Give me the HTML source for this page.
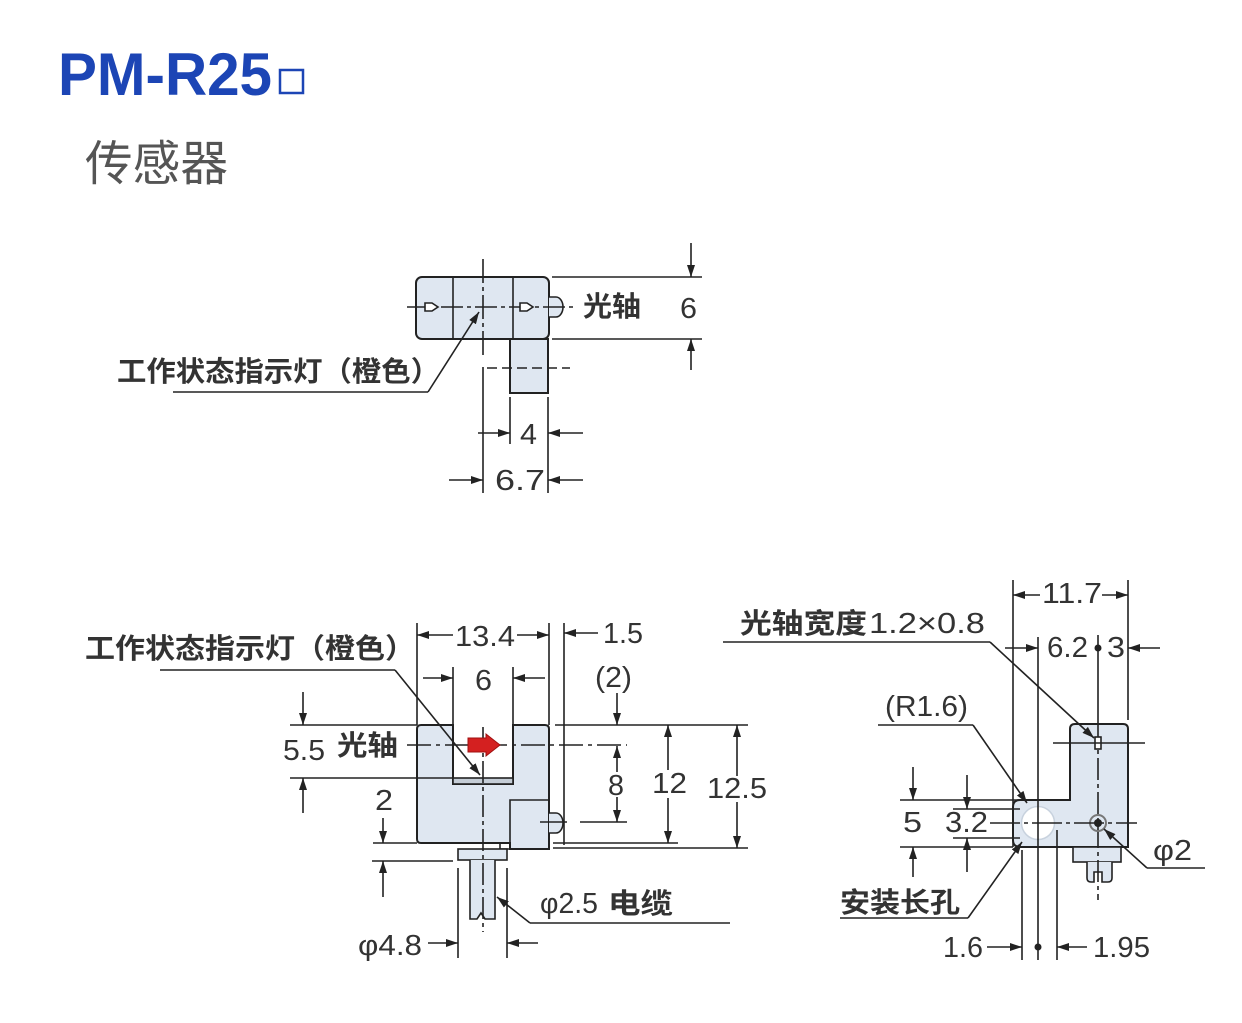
<!DOCTYPE html>
<html><head><meta charset="utf-8"><style>
html,body{margin:0;padding:0;background:#fff;}
svg{display:block;}
.n{font-family:"Liberation Sans",Arial,sans-serif;font-size:29px;fill:#333;}
.c{font-family:"Liberation Sans","Noto Sans CJK SC",sans-serif;font-size:28px;font-weight:700;fill:#333;}
</style></head><body>
<svg width="1242" height="1023" viewBox="0 0 1242 1023" xmlns="http://www.w3.org/2000/svg">
<defs>
<marker id="a" viewBox="0 0 12 8" refX="12" refY="4" markerWidth="12" markerHeight="8" markerUnits="userSpaceOnUse" orient="auto"><path d="M0,0 L12,4 L0,8 z" fill="#222"/></marker>
</defs>

<!-- Title -->
<text x="58" y="95" font-family="Liberation Sans, Arial, sans-serif" font-weight="700" font-size="60" fill="#1c45b5" textLength="214" lengthAdjust="spacingAndGlyphs">PM-R25</text>
<rect x="280" y="70" width="23" height="23" fill="#fff" stroke="#1c45b5" stroke-width="2.5"/>
<text x="85" y="180" font-family="Liberation Sans, Noto Sans CJK SC, sans-serif" font-size="48" fill="#555" textLength="143" lengthAdjust="spacingAndGlyphs">传感器</text>

<!-- ===== TOP VIEW ===== -->
<g stroke="#222" stroke-width="1.6" fill="none">
  <rect x="416" y="277" width="133" height="62" rx="6" fill="#dfe7f1" stroke-width="2"/>
  <rect x="510" y="339" width="38" height="54" fill="#dfe7f1" stroke-width="2"/>
  <line x1="453" y1="277" x2="453" y2="339"/>
  <line x1="513" y1="277" x2="513" y2="339"/>
  <path d="M549,297 H556 A7,10 0 0 1 556,317 H549" fill="#dfe7f1"/>
  <line x1="407" y1="307" x2="573" y2="307" stroke-dasharray="22,4,4,4"/>
  <path d="M425,303 h7 l6,4 l-6,4 h-7 z" fill="#fff"/>
  <path d="M520,303 h7 l6,4 l-6,4 h-7 z" fill="#fff"/>
  <line x1="483" y1="259" x2="483" y2="357" stroke-dasharray="24,4,4,4"/>
  <line x1="483" y1="367" x2="483" y2="493"/>
  <line x1="487" y1="368" x2="570" y2="368" stroke-dasharray="10,5"/>
  <line x1="510" y1="397" x2="510" y2="444"/>
  <line x1="548" y1="397" x2="548" y2="493"/>
  <line x1="478" y1="433" x2="510" y2="433" marker-end="url(#a)"/>
  <line x1="583" y1="433" x2="548" y2="433" marker-end="url(#a)"/>
  <line x1="449" y1="480" x2="483" y2="480" marker-end="url(#a)"/>
  <line x1="583" y1="480" x2="548" y2="480" marker-end="url(#a)"/>
  <line x1="552" y1="277" x2="702" y2="277"/>
  <line x1="552" y1="339" x2="702" y2="339"/>
  <line x1="691" y1="243" x2="691" y2="277" marker-end="url(#a)"/>
  <line x1="691" y1="370" x2="691" y2="339" marker-end="url(#a)"/>
  <polyline points="173,392 428,392"/>
  <line x1="428" y1="392" x2="479" y2="312" marker-end="url(#a)"/>
</g>
<text class="c" x="117" y="381" font-size="29" textLength="323" lengthAdjust="spacingAndGlyphs">工作状态指示灯（橙色）</text>
<text class="c" x="583" y="316" font-size="26" textLength="58" lengthAdjust="spacingAndGlyphs">光轴</text>
<text class="n" x="680" y="318" textLength="17" lengthAdjust="spacingAndGlyphs">6</text>
<text class="n" x="520" y="444" textLength="17" lengthAdjust="spacingAndGlyphs">4</text>
<text class="n" x="495" y="490" textLength="50" lengthAdjust="spacingAndGlyphs">6.7</text>

<!-- ===== BOTTOM LEFT ===== -->
<g stroke="#222" stroke-width="1.6" fill="none">
  <path d="M417,729 Q417,725 421,725 H453 V784 H513 V725 H545 Q549,725 549,729 V849 H510 V843 H421 Q417,843 417,839 Z" fill="#dfe7f1" stroke-width="2"/>
  <rect x="453" y="778" width="60" height="6" fill="#c5cdd6"/>
  <path d="M510,849 V800 H549"/>
  <path d="M500,843 V849 H510"/>
  <path d="M549,813 H556 A7,10 0 0 1 556,833 H549" fill="#dfe7f1"/>
  <rect x="458" y="849" width="49" height="11" fill="#dfe7f1"/>
  <path d="M470,860 V919 H477 L481,913 L485,919 H495 V860" fill="#dfe7f1"/>
  <line x1="483" y1="727" x2="483" y2="932" stroke-dasharray="22,4,4,4"/>
  <line x1="407" y1="745" x2="627" y2="745" stroke-dasharray="24,5,4,5"/>
  <line x1="540" y1="822" x2="567" y2="822"/>
  <!-- ext lines -->
  <line x1="290" y1="725" x2="417" y2="725"/>
  <line x1="555" y1="725" x2="748" y2="725"/>
  <line x1="290" y1="778" x2="453" y2="778"/>
  <line x1="373" y1="843" x2="417" y2="843"/>
  <line x1="372" y1="861" x2="453" y2="861"/>
  <line x1="580" y1="822" x2="627" y2="822"/>
  <line x1="553" y1="843" x2="678" y2="843"/>
  <line x1="553" y1="848" x2="748" y2="848"/>
  <line x1="417" y1="623" x2="417" y2="725"/>
  <line x1="549" y1="623" x2="549" y2="725"/>
  <line x1="453" y1="667" x2="453" y2="725"/>
  <line x1="513" y1="667" x2="513" y2="725"/>
  <line x1="564" y1="623" x2="564" y2="845"/>
  <line x1="458" y1="868" x2="458" y2="958"/>
  <line x1="507" y1="868" x2="507" y2="958"/>
  <!-- dims -->
  <line x1="453" y1="635" x2="417" y2="635" marker-end="url(#a)"/>
  <line x1="517" y1="635" x2="549" y2="635" marker-end="url(#a)"/>
  <line x1="423" y1="678" x2="453" y2="678" marker-end="url(#a)"/>
  <line x1="545" y1="678" x2="513" y2="678" marker-end="url(#a)"/>
  <line x1="598" y1="633" x2="564" y2="633" marker-end="url(#a)"/>
  <line x1="617" y1="693" x2="617" y2="725" marker-end="url(#a)"/>
  <line x1="617" y1="772" x2="617" y2="746" marker-end="url(#a)"/>
  <line x1="617" y1="797" x2="617" y2="822" marker-end="url(#a)"/>
  <line x1="668" y1="770" x2="668" y2="725" marker-end="url(#a)"/>
  <line x1="668" y1="798" x2="668" y2="843" marker-end="url(#a)"/>
  <line x1="737" y1="776" x2="737" y2="725" marker-end="url(#a)"/>
  <line x1="737" y1="802" x2="737" y2="848" marker-end="url(#a)"/>
  <line x1="303" y1="692" x2="303" y2="725" marker-end="url(#a)"/>
  <line x1="303" y1="813" x2="303" y2="778" marker-end="url(#a)"/>
  <line x1="383" y1="818" x2="383" y2="843" marker-end="url(#a)"/>
  <line x1="383" y1="897" x2="383" y2="861" marker-end="url(#a)"/>
  <line x1="428" y1="943" x2="458" y2="943" marker-end="url(#a)"/>
  <line x1="538" y1="943" x2="507" y2="943" marker-end="url(#a)"/>
  <!-- leaders -->
  <polyline points="160,670 395,670"/>
  <line x1="395" y1="670" x2="480" y2="775" marker-end="url(#a)"/>
  <polyline points="730,923 530,923"/>
  <line x1="530" y1="923" x2="497" y2="897" marker-end="url(#a)"/>
</g>
<path d="M468,738 H486 V734 L500,745 L486,756 V752 H468 Z" fill="#d42020" stroke="#a01010" stroke-width="1"/>
<text class="c" x="85" y="658" font-size="29" textLength="330" lengthAdjust="spacingAndGlyphs">工作状态指示灯（橙色）</text>
<text class="n" x="455" y="646" textLength="60" lengthAdjust="spacingAndGlyphs">13.4</text>
<text class="n" x="475" y="690" textLength="17" lengthAdjust="spacingAndGlyphs">6</text>
<text class="n" x="283" y="760" textLength="42" lengthAdjust="spacingAndGlyphs">5.5</text>
<text class="c" x="337" y="755" textLength="61" lengthAdjust="spacingAndGlyphs">光轴</text>
<text class="n" x="375" y="810" textLength="18" lengthAdjust="spacingAndGlyphs">2</text>
<text class="n" x="603" y="643" textLength="40" lengthAdjust="spacingAndGlyphs">1.5</text>
<text class="n" x="595" y="687" textLength="37" lengthAdjust="spacingAndGlyphs">(2)</text>
<text class="n" x="608" y="795" textLength="16" lengthAdjust="spacingAndGlyphs">8</text>
<text class="n" x="652" y="793" textLength="35" lengthAdjust="spacingAndGlyphs">12</text>
<text class="n" x="707" y="798" textLength="60" lengthAdjust="spacingAndGlyphs">12.5</text>
<text class="n" x="540" y="913" textLength="58" lengthAdjust="spacingAndGlyphs">φ2.5</text>
<text class="c" x="608" y="913" textLength="65" lengthAdjust="spacingAndGlyphs">电缆</text>
<text class="n" x="358" y="955" textLength="64" lengthAdjust="spacingAndGlyphs">φ4.8</text>

<!-- ===== BOTTOM RIGHT ===== -->
<g stroke="#222" stroke-width="1.6" fill="none">
  <path d="M1070,800 V729 Q1070,724 1075,724 H1123 Q1128,724 1128,729 V847 H1020 Q1013,847 1013,840 V807 Q1013,800 1020,800 Z" fill="#dfe7f1" stroke-width="2"/>
  <circle cx="1038" cy="823" r="16.5" fill="#fff" stroke="#c8d2de" stroke-width="1.5"/>
  <rect x="1073" y="847" width="48" height="15" fill="#dfe7f1"/>
  <path d="M1087,862 V878 Q1087,882 1091,882 H1094 V872 H1102 V882 H1108 Q1112,882 1112,878 V862" fill="#dfe7f1"/>
  <line x1="1098" y1="635" x2="1098" y2="724"/>
  <line x1="1098" y1="724" x2="1098" y2="900" stroke-dasharray="22,4,4,4"/>
  <rect x="1095" y="737" width="6" height="12" fill="#fff"/>
  <line x1="1053" y1="743" x2="1145" y2="743"/>
  <circle cx="1098" cy="823" r="8" stroke="#777" stroke-width="2"/>
  <circle cx="1098" cy="823" r="4" fill="#222" stroke="none"/>
  <line x1="990" y1="823" x2="1137" y2="823" stroke-dasharray="30,4,4,4"/>
  <!-- ext -->
  <line x1="1013" y1="580" x2="1013" y2="847"/>
  <line x1="1128" y1="580" x2="1128" y2="720"/>
  <line x1="1038" y1="637" x2="1038" y2="960"/>
  <line x1="1022" y1="850" x2="1022" y2="960"/>
  <line x1="1057" y1="830" x2="1057" y2="960"/>
  <line x1="900" y1="800" x2="1070" y2="800"/>
  <line x1="953" y1="809" x2="1020" y2="809"/>
  <line x1="953" y1="838" x2="1020" y2="838"/>
  <line x1="900" y1="847" x2="1013" y2="847"/>
  <!-- dims -->
  <line x1="1040" y1="595" x2="1013" y2="595" marker-end="url(#a)"/>
  <line x1="1102" y1="595" x2="1128" y2="595" marker-end="url(#a)"/>
  <line x1="1005" y1="648" x2="1038" y2="648" marker-end="url(#a)"/>
  <line x1="1160" y1="648" x2="1128" y2="648" marker-end="url(#a)"/>
  <line x1="913" y1="767" x2="913" y2="800" marker-end="url(#a)"/>
  <line x1="913" y1="877" x2="913" y2="847" marker-end="url(#a)"/>
  <line x1="967" y1="775" x2="967" y2="809" marker-end="url(#a)"/>
  <line x1="967" y1="872" x2="967" y2="838" marker-end="url(#a)"/>
  <line x1="987" y1="947" x2="1022" y2="947" marker-end="url(#a)"/>
  <line x1="1087" y1="947" x2="1057" y2="947" marker-end="url(#a)"/>
  <!-- leaders -->
  <polyline points="723,642 990,642"/>
  <line x1="990" y1="642" x2="1094" y2="738" marker-end="url(#a)"/>
  <polyline points="878,725 973,725"/>
  <line x1="973" y1="725" x2="1027" y2="803" marker-end="url(#a)"/>
  <polyline points="840,918 968,918"/>
  <line x1="968" y1="918" x2="1022" y2="842" marker-end="url(#a)"/>
  <polyline points="1205,868 1147,868"/>
  <line x1="1147" y1="868" x2="1104" y2="829" marker-end="url(#a)"/>
</g>
<circle cx="1098" cy="648" r="3.5" fill="#222"/>
<circle cx="1038" cy="947" r="3.5" fill="#222"/>
<text class="n" x="1042" y="603" textLength="60" lengthAdjust="spacingAndGlyphs">11.7</text>
<text class="c" x="740" y="633" textLength="127" lengthAdjust="spacingAndGlyphs">光轴宽度</text>
<text class="n" x="869" y="633" textLength="116" lengthAdjust="spacingAndGlyphs">1.2×0.8</text>
<text class="n" x="1047" y="657" textLength="41" lengthAdjust="spacingAndGlyphs">6.2</text>
<text class="n" x="1107" y="657" textLength="18" lengthAdjust="spacingAndGlyphs">3</text>
<text class="n" x="885" y="716" textLength="83" lengthAdjust="spacingAndGlyphs">(R1.6)</text>
<text class="n" x="903" y="832" textLength="19" lengthAdjust="spacingAndGlyphs">5</text>
<text class="n" x="945" y="832" textLength="43" lengthAdjust="spacingAndGlyphs">3.2</text>
<text class="n" x="1153" y="860" textLength="39" lengthAdjust="spacingAndGlyphs">φ2</text>
<text class="c" x="840" y="912" textLength="120" lengthAdjust="spacingAndGlyphs">安装长孔</text>
<text class="n" x="943" y="957" textLength="40" lengthAdjust="spacingAndGlyphs">1.6</text>
<text class="n" x="1093" y="957" textLength="57" lengthAdjust="spacingAndGlyphs">1.95</text>
</svg>
</body></html>
